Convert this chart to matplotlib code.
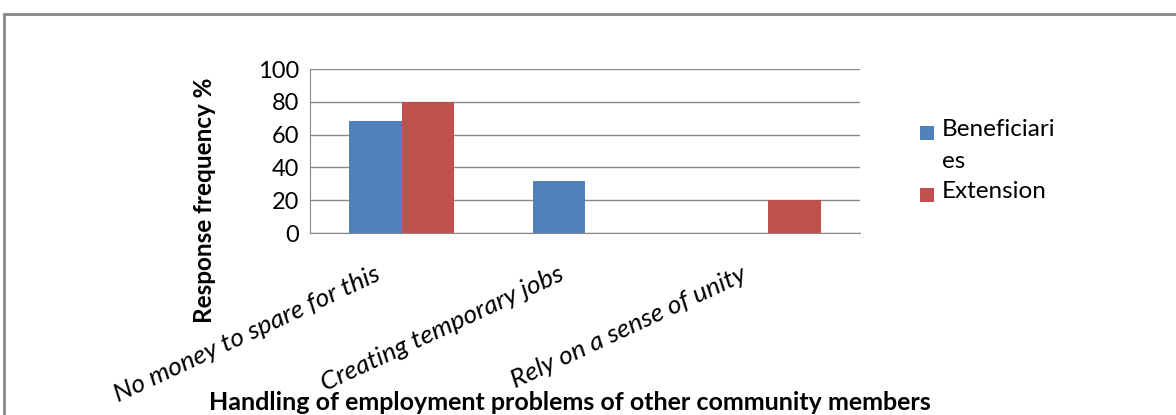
import matplotlib.pyplot as plt
import matplotlib.transforms as mtransforms
import numpy as np
from matplotlib.patches import Rectangle

categories = ["No money to spare for this", "Creating temporary jobs", "Rely on a sense of unity"]
series_names = ["Beneficiari\nes", "Extension"]
beneficiaries = [68, 32, 0]
extension = [80, 0, 20]
y_ticks = [0, 20, 40, 60, 80, 100]
colors = ["#4F81BD", "#C0504D"]

plt.rcParams["font.family"] = ["Lato", "DejaVu Sans"]
W, H = 1176, 415

fig = plt.figure(figsize=(W / 100, H / 100), dpi=100)
ax = fig.add_axes([310 / W, 1 - 233 / H, 550 / W, 164 / H])

x = np.arange(len(categories))
width = 1 / 3.5
ax.bar(x - width / 2, beneficiaries, width, color=colors[0], zorder=3)
ax.bar(x + width / 2, extension, width, color=colors[1], zorder=3)

ax.set_xlim(-0.5, 2.5)
ax.set_ylim(0, 100)
ax.set_yticks(y_ticks)
ax.set_yticklabels([str(v) for v in y_ticks], fontsize=17)
ax.yaxis.grid(True, color="#888888", linewidth=1, zorder=0)
for side in ["top", "right"]:
    ax.spines[side].set_visible(False)
ax.spines["left"].set_color("#888888")
ax.spines["bottom"].set_color("#888888")
ax.tick_params(axis="y", length=0, pad=8)
ax.tick_params(axis="x", length=0, pad=4)

ax.set_xticks(x)
ax.set_xticklabels(categories, rotation=25, ha="right", va="top", rotation_mode="anchor",
                   fontsize=19, style="italic")
offset = mtransforms.ScaledTranslation(-28 / 100, -24 / 100, fig.dpi_scale_trans)
for lbl in ax.get_xticklabels():
    lbl.set_transform(lbl.get_transform() + offset)

fig.text(205 / W, 1 - 200 / H, "Response frequency %", rotation=90, ha="center",
         va="center", fontsize=17.5, fontweight="bold")
fig.text(570 / W, 1 - 402 / H, "Handling of employment problems of other community members",
         ha="center", va="center", fontsize=18, fontweight="bold")

# legend drawn by hand so the first square sits on the first text line
legend_rows = [133, 195]
for name, color, yc in zip(series_names, colors, legend_rows):
    fig.add_artist(Rectangle((920 / W, 1 - (yc + 7) / H), 14 / W, 14 / H,
                             transform=fig.transFigure, facecolor=color, edgecolor="none"))
    fig.text(942 / W, 1 - (yc - 14) / H, name, ha="left", va="top", fontsize=17.5,
             linespacing=1.65)

fig.add_artist(Rectangle((4 / W, -0.1), 1.2, 1 - 14 / H + 0.1,
                         transform=fig.transFigure, fill=False,
                         edgecolor="#888888", linewidth=2))

fig.savefig("out.png", dpi=100)
